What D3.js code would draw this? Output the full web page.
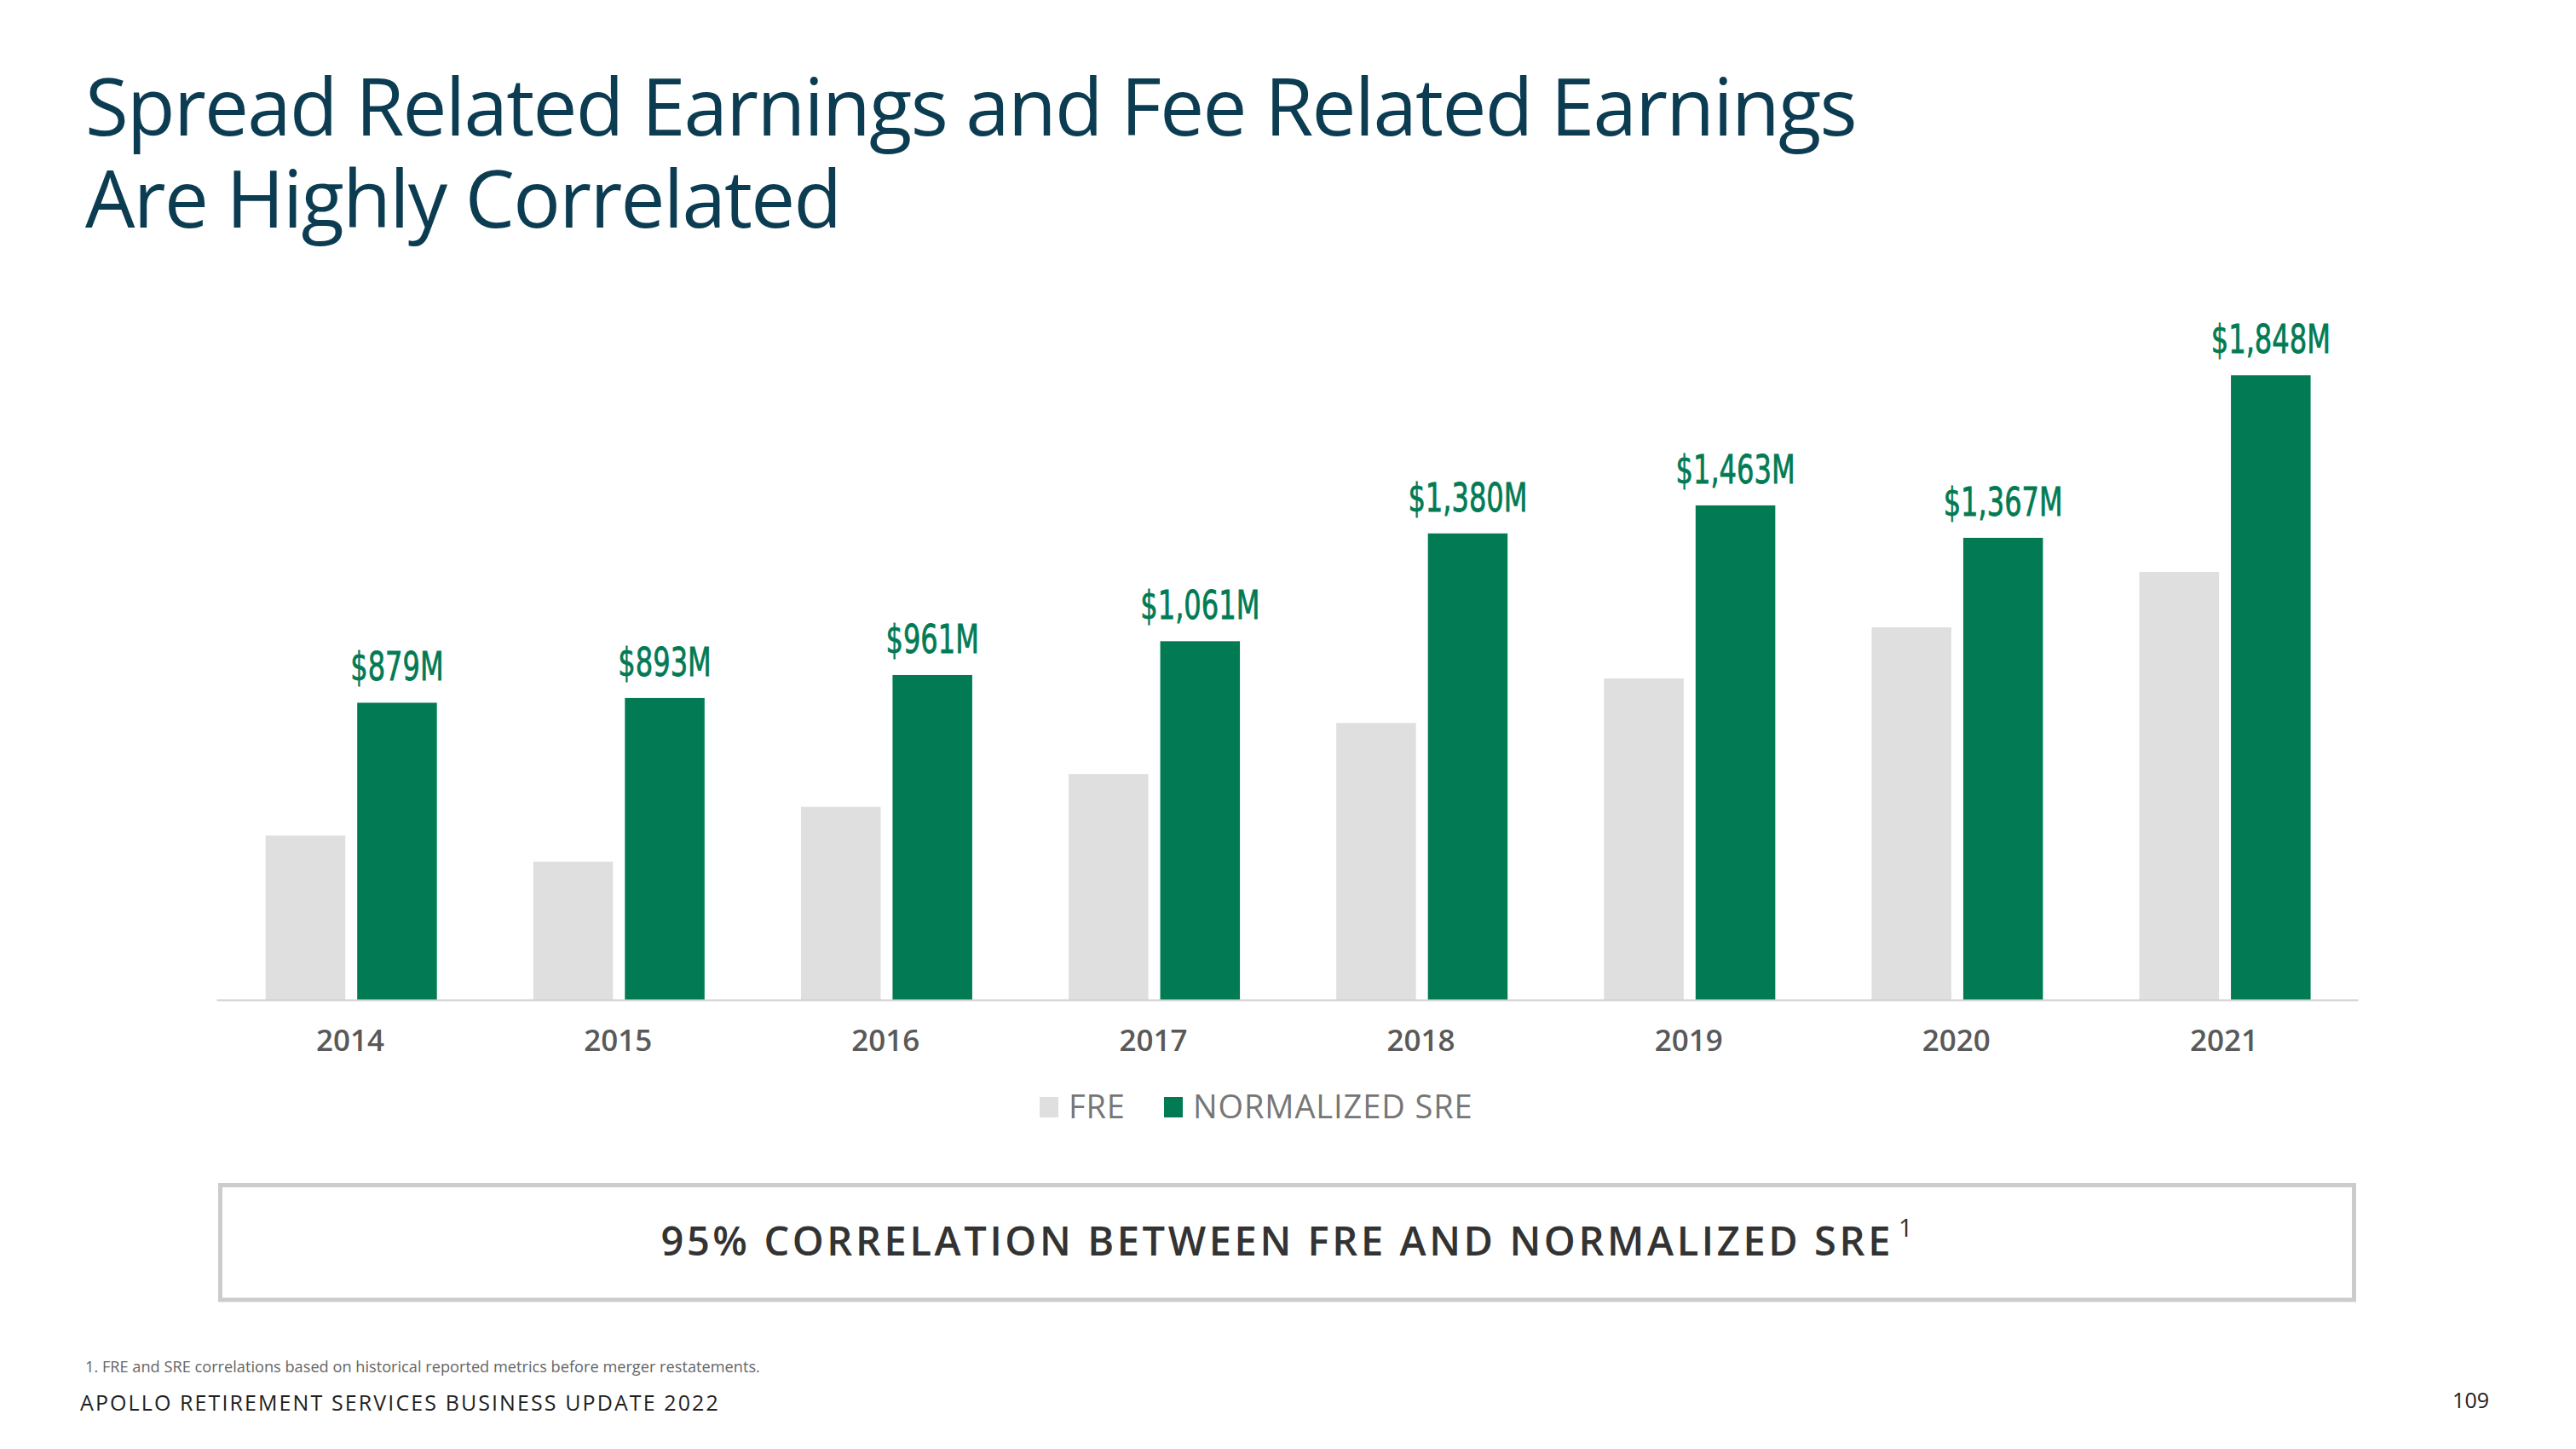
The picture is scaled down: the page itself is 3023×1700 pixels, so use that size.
<!DOCTYPE html>
<html>
<head>
<meta charset="utf-8">
<script src="https://cdn.jsdelivr.net/npm/d3@7"></script>
<style>
  html, body { margin: 0; padding: 0; background: #ffffff; }
  svg { display: block; }
</style>
</head>
<body>
<svg id="chart" width="3023" height="1700"></svg>
<script>
const years = ["2014", "2015", "2016", "2017", "2018", "2019", "2020", "2021"];
const freValues = [486, 409, 571, 668, 819, 951, 1102, 1266];
const sreValues = [879, 893, 961, 1061, 1380, 1463, 1367, 1848];
const seriesNames = ["FRE", "NORMALIZED SRE"];
const sreLabels = ["$879M", "$893M", "$961M", "$1,061M", "$1,380M", "$1,463M", "$1,367M", "$1,848M"];
const titleLines = ["Spread Related Earnings and Fee Related Earnings", "Are Highly Correlated"];
const calloutText = "95% CORRELATION BETWEEN FRE AND NORMALIZED SRE";
const footnoteText = "1. FRE and SRE correlations based on historical reported metrics before merger restatements.";
const footerText = "APOLLO RETIREMENT SERVICES BUSINESS UPDATE 2022";
const pageNumber = "109";

const colors = { FRE: "#dfdfdf", "NORMALIZED SRE": "#027b55" };
const svg = d3.select("#chart");

// Title (one text element, two lines)
svg.append("text")
  .attr("font-family", "'Open Sans', 'Noto Sans', sans-serif")
  .attr("font-size", 92.5)
  .attr("letter-spacing", -1.7)
  .attr("fill", "#0b3c51")
  .selectAll("tspan").data(titleLines).join("tspan")
  .attr("x", 100)
  .attr("y", (d, i) => 159 + i * 108)
  .text(d => d);

// Scales
const x0 = d3.scaleBand().domain(years).range([254, 2767]).padding(0);
const x1 = d3.scaleBand().domain(seriesNames).range([57.7, 258.7]).paddingInner(0.13).paddingOuter(0);
const y = d3.scaleLinear().domain([0, 2000]).range([1173, 380]);

const rows = years.map((yr, i) => ({ year: yr, values: [
  { key: "FRE", value: freValues[i] },
  { key: "NORMALIZED SRE", value: sreValues[i], label: sreLabels[i] }
]}));

const groups = svg.append("g").selectAll("g").data(rows).join("g")
  .attr("transform", d => `translate(${x0(d.year)},0)`);

groups.selectAll("rect").data(d => d.values).join("rect")
  .attr("x", d => x1(d.key))
  .attr("width", x1.bandwidth())
  .attr("y", d => y(d.value))
  .attr("height", d => y(0) - y(d.value))
  .attr("fill", d => colors[d.key]);

groups.selectAll("text.val").data(d => d.values.filter(v => v.label)).join("text")
  .attr("class", "val")
  .attr("transform", d => `translate(${x1(d.key) + x1.bandwidth() / 2},${y(d.value) - 26}) scale(0.76,1)`)
  .attr("text-anchor", "middle")
  .attr("font-family", "'Liberation Sans Narrow', 'DejaVu Sans Condensed', 'Roboto', sans-serif")
  .attr("font-size", 47)
  .attr("fill", "#027b55")
  .attr("stroke", "#027b55")
  .attr("stroke-width", 0.8)
  .text(d => d.label);

// X axis
const axis = svg.append("g")
  .attr("transform", `translate(0,${y(0)})`)
  .call(d3.axisBottom(x0).tickSize(0).tickSizeOuter(0));
axis.select(".domain").attr("stroke", "#d0d0d0").attr("stroke-width", 2);
axis.selectAll(".tick text")
  .attr("y", 60).attr("dy", 0)
  .attr("font-family", "'Open Sans', 'Noto Sans', sans-serif")
  .attr("font-size", 35)
  .attr("font-weight", 600)
  .attr("fill", "#595959");

// Legend
const legendX = [1220, 1366];
const legend = svg.append("g").selectAll("g").data(seriesNames).join("g")
  .attr("transform", (d, i) => `translate(${legendX[i]},1287)`);
legend.append("rect").attr("width", 22).attr("height", 24).attr("fill", d => colors[d]);
legend.append("text")
  .attr("x", 34).attr("y", 24.5)
  .attr("font-family", "'Open Sans', 'Noto Sans', sans-serif")
  .attr("font-size", 38)
  .attr("letter-spacing", 0.9)
  .attr("fill", "#767676")
  .text(d => d);

// Callout box
svg.append("rect")
  .attr("x", 258.5).attr("y", 1390.5).attr("width", 2504).attr("height", 134.5)
  .attr("fill", "#ffffff").attr("stroke", "#cccccc").attr("stroke-width", 5);
const callout = svg.append("text")
  .attr("x", 1510).attr("y", 1473)
  .attr("text-anchor", "middle")
  .attr("font-family", "'Open Sans', 'Noto Sans', sans-serif")
  .attr("font-size", 47)
  .attr("font-weight", 600)
  .attr("letter-spacing", 3.6)
  .attr("fill", "#333333");
callout.append("tspan").text(calloutText);
callout.append("tspan").attr("dx", 6).attr("dy", -22).attr("font-size", 29).attr("font-weight", 400).attr("letter-spacing", 0).text("1");

// Footnote and footer
svg.append("text")
  .attr("x", 100).attr("y", 1610)
  .attr("font-family", "'Open Sans', 'Noto Sans', sans-serif")
  .attr("font-size", 18.2)
  .attr("fill", "#666666")
  .text(footnoteText);
svg.append("text")
  .attr("x", 94).attr("y", 1655)
  .attr("font-family", "'Open Sans', 'Noto Sans', sans-serif")
  .attr("font-size", 25)
  .attr("letter-spacing", 2.1)
  .attr("fill", "#1e1e1e")
  .text(footerText);
svg.append("text")
  .attr("x", 2921).attr("y", 1652)
  .attr("text-anchor", "end")
  .attr("font-family", "'Open Sans', 'Noto Sans', sans-serif")
  .attr("font-size", 25)
  .attr("fill", "#1e1e1e")
  .text(pageNumber);
</script>
</body>
</html>
